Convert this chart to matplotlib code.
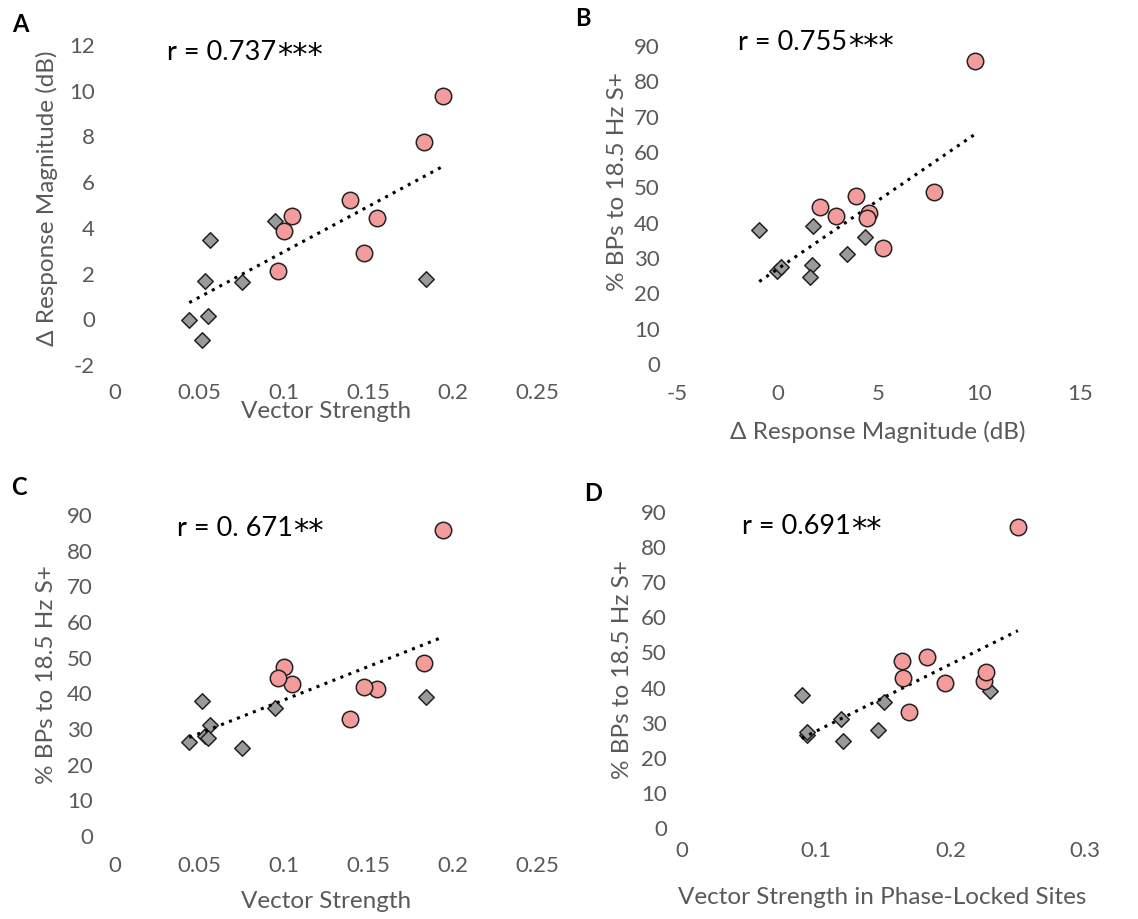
import numpy as np
import matplotlib
matplotlib.use("Agg")
import matplotlib.pyplot as plt

plt.rcParams['font.family'] = ['Lato', 'DejaVu Sans']
plt.rcParams['axes.unicode_minus'] = False

# ---- data ----
# pink circles (8 sites)
circ_vs = [0.1945, 0.1832, 0.1394, 0.1049, 0.0999, 0.1552, 0.1473, 0.0964]
circ_db = [9.79, 7.76, 5.21, 4.54, 3.86, 4.41, 2.91, 2.10]
circ_pct = [85.8, 48.6, 32.9, 42.7, 47.5, 41.2, 41.9, 44.3]
circ_pl = [0.250, 0.1826, 0.1692, 0.1642, 0.1635, 0.1958, 0.2251, 0.2263]
# grey diamonds (8 sites)
diam_vs = [0.0946, 0.0565, 0.1842, 0.0533, 0.0750, 0.0440, 0.0553, 0.0514]
diam_db = [4.31, 3.46, 1.75, 1.68, 1.62, -0.04, 0.14, -0.92]
diam_pct = [36.0, 31.0, 39.1, 28.0, 24.7, 26.4, 27.4, 37.9]
diam_pl = [0.1503, 0.1180, 0.2293, 0.1461, 0.1200, 0.0931, 0.0931, 0.0890]

r_values = ["r = 0.737", "r = 0.755", "r = 0. 671", "r = 0.691"]
r_stars = ["***", "***", "**", "**"]
panel_letters = ["A", "B", "C", "D"]

xlabels = ["Vector Strength", "\u0394 Response Magnitude (dB)", "Vector Strength",
           "Vector Strength in Phase-Locked Sites"]
ylabels = ["\u0394 Response Magnitude (dB)", "% BPs to 18.5 Hz S+",
           "% BPs to 18.5 Hz S+", "% BPs to 18.5 Hz S+"]

xticks_A = [0, 0.05, 0.1, 0.15, 0.2, 0.25]
xticklabels_A = ["0", "0.05", "0.1", "0.15", "0.2", "0.25"]
yticks_A = [-2, 0, 2, 4, 6, 8, 10, 12]
xticks_B = [-5, 0, 5, 10, 15]
xticks_D = [0, 0.1, 0.2, 0.3]
xticklabels_D = ["0", "0.1", "0.2", "0.3"]
yticks_pct = [0, 10, 20, 30, 40, 50, 60, 70, 80, 90]

W, H = 1138, 919
fig = plt.figure(figsize=(W / 100, H / 100), dpi=100)

def ax_px(left, right, top, bottom):
    return fig.add_axes([left / W, 1 - bottom / H, (right - left) / W, (bottom - top) / H])

axA = ax_px(115, 537, 45, 365)
axB = ax_px(677, 1080, 46, 364)
axC = ax_px(115, 537, 515, 836)
axD = ax_px(682, 1085, 512, 828)

pink = "#F49C9C"
grey = "#9A9A9A"
tick_col = "#595959"

panels = [
    (axA, circ_vs, circ_db, diam_vs, diam_db, (0, 0.25), (-2, 12), xticks_A, xticklabels_A, yticks_A, 20, 29),
    (axB, circ_db, circ_pct, diam_db, diam_pct, (-5, 15), (0, 90), xticks_B, [str(v) for v in xticks_B], yticks_pct, 17, 31),
    (axC, circ_vs, circ_pct, diam_vs, diam_pct, (0, 0.25), (0, 90), xticks_A, xticklabels_A, yticks_pct, 22, 31),
    (axD, circ_pl, circ_pct, diam_pl, diam_pct, (0, 0.3), (0, 90), xticks_D, xticklabels_D, yticks_pct, 15, 24),
]

for (ax, cx, cy, dx, dy, xl, yl, xt, xtl, yt, ypad, xpad) in panels:
    allx = np.array(list(cx) + list(dx))
    ally = np.array(list(cy) + list(dy))
    m, b = np.polyfit(allx, ally, 1)
    xs = np.array([allx.min(), allx.max()])
    ax.plot(xs, m * xs + b, linestyle=(0, (1, 1.8)), color="black", lw=2.2, zorder=3)
    ax.scatter(dx, dy, marker="D", s=62, facecolor=grey, edgecolor="#222222", linewidths=1.1, zorder=2)
    ax.scatter(cx, cy, marker="o", s=140, facecolor=pink, edgecolor="#222222", linewidths=1.1, zorder=4)
    ax.set_xlim(*xl)
    ax.set_ylim(*yl)
    ax.set_xticks(xt)
    ax.set_xticklabels(xtl)
    ax.set_yticks(yt)
    for s in ax.spines.values():
        s.set_visible(False)
    ax.tick_params(axis="both", length=0, labelsize=16, colors=tick_col)
    ax.tick_params(axis="y", pad=ypad * 0.72)
    ax.tick_params(axis="x", pad=(xpad - 11) * 0.72)
    ax.patch.set_alpha(0)

def fig_text(x, y, s, **kw):
    return fig.text(x / W, 1 - y / H, s, **kw)

# axis labels
fs_lab = 17.5
fig_text(326, 412, xlabels[0], ha="center", va="center", fontsize=fs_lab, color=tick_col)
fig_text(878, 432, xlabels[1], ha="center", va="center", fontsize=fs_lab, color=tick_col)
fig_text(326, 902, xlabels[2], ha="center", va="center", fontsize=fs_lab, color=tick_col)
fig_text(882, 898, xlabels[3], ha="center", va="center", fontsize=fs_lab, color=tick_col)

fig_text(47, 198, ylabels[0], ha="center", va="center", rotation=90, fontsize=fs_lab, color=tick_col)
fig_text(617, 182, ylabels[1], ha="center", va="center", rotation=90, fontsize=fs_lab, color=tick_col)
fig_text(47, 675, ylabels[2], ha="center", va="center", rotation=90, fontsize=fs_lab, color=tick_col)
fig_text(622, 670, ylabels[3], ha="center", va="center", rotation=90, fontsize=fs_lab, color=tick_col)

# correlation texts
r_pos = [(167, 52, axA), (738, 43, axB), (177, 528, axC), (742, 526, axD)]
for (x, y, ax), rv, st in zip(r_pos, r_values, r_stars):
    t = fig_text(x, y, rv, ha="left", va="center", fontsize=19.5, color="black")
    ax.annotate(st, xy=(1.0, 1.0), xycoords=t, xytext=(0.5, -1.0), textcoords="offset points",
                ha="left", va="top", fontsize=22, color="black", family=["DejaVu Sans"],
                annotation_clip=False)

# panel letters
fig_text(20, 24, panel_letters[0], ha="center", va="center", fontsize=17, fontweight="bold")
fig_text(583, 18, panel_letters[1], ha="center", va="center", fontsize=17, fontweight="bold")
fig_text(19, 488, panel_letters[2], ha="center", va="center", fontsize=17, fontweight="bold")
fig_text(593, 493, panel_letters[3], ha="center", va="center", fontsize=17, fontweight="bold")

fig.savefig("out.png", dpi=100, facecolor="white")
